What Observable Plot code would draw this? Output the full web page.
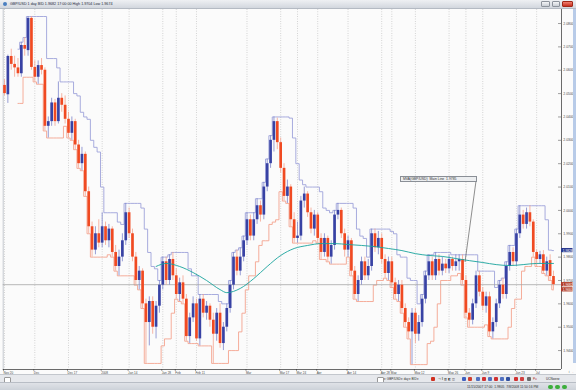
<!DOCTYPE html>
<html><head><meta charset="utf-8">
<script src="https://cdn.jsdelivr.net/npm/d3@7"></script>
<script src="https://cdn.jsdelivr.net/npm/@observablehq/plot@0.6"></script>
<style>
html,body{margin:0;padding:0;background:#d5d9df;}
#wrap{position:relative;width:576px;height:390px;overflow:hidden;background:#fbfbfb;font-family:"Liberation Sans",Arial,sans-serif;}
#titlebar{position:absolute;left:0;top:0;width:576px;height:9px;background:linear-gradient(#eef0f3,#d2d7de);border-bottom:1px solid #b4bac3;box-sizing:border-box;}
#titletext{position:absolute;left:10px;top:2px;font-size:3.7px;line-height:5px;color:#23293a;white-space:nowrap;}
#ticon{position:absolute;left:3px;top:2px;width:4px;height:4px;border-radius:50%;background:#4a7fc0;}
.wbtn{position:absolute;top:1px;height:6px;border:0.5px solid #8d939c;border-radius:1px;box-sizing:border-box;background:linear-gradient(#f4f5f7,#c9ced5);}
#plotbox{position:absolute;left:0;top:9px;}
#strip{position:absolute;left:573px;top:9px;width:3px;height:354px;background:#b8cbe8;}
#tip{position:absolute;left:400px;top:176px;width:77px;height:6px;background:#eceef0;border:0.5px solid #8a8f96;box-sizing:border-box;font-size:3.4px;line-height:5.5px;color:#333;white-space:nowrap;overflow:hidden;padding-left:2px;}
#tipline{position:absolute;left:0;top:0;}
#toolbar{position:absolute;left:0;top:374px;width:576px;height:8px;background:#e6e8ec;border-top:0.5px solid #c3c7cd;box-sizing:border-box;}
#status{position:absolute;left:0;top:382px;width:576px;height:8px;background:linear-gradient(#dfe2e7,#cdd2d9);border-top:0.5px solid #b8bdc5;box-sizing:border-box;}
#statustext{position:absolute;left:467px;top:2px;font-size:3.3px;color:#333;white-space:nowrap;}
.tb{position:absolute;top:1.6px;height:5px;font-size:3.1px;line-height:5px;color:#333;white-space:nowrap;}
.ic{position:absolute;top:2px;width:4px;height:4px;border-radius:1px;}
.dot{position:absolute;top:1.8px;width:4.5px;height:4.5px;border-radius:50%;background:#3cae3c;}
</style></head>
<body>
<div id="wrap">
  <div id="titlebar"><div id="ticon"></div><div id="titletext"></div>
    <div class="wbtn" style="left:541px;width:9px"></div>
    <div class="wbtn" style="left:552px;width:8px"></div>
    <div class="wbtn" style="left:562px;width:11px;background:linear-gradient(#f08070,#c83020);border-color:#a02818"></div>
  </div>
  <div id="plotbox"></div>
  <div id="strip"></div>
  <svg id="tipline" width="576" height="390"><line x1="476" y1="181" x2="465" y2="262" stroke="#444" stroke-width="0.6"/></svg>
  <div id="tip"></div>
  <div id="toolbar">
    <div class="ic" style="left:4px;top:1.5px;width:5px;height:5px;background:#fff;border:0.5px solid #999"></div>
    <div class="ic" style="left:377px;top:1.5px;width:5px;height:5px;background:#fff;border:0.5px solid #999"></div>
    <div class="tb" style="left:384px;">▾ GBP/USD▾ day▾ BID▾</div>
    <div class="ic" style="left:431px;background:#d03020"></div>
    <div class="tb" style="left:438px;">⊣ ‖ ▥ ◧ ◫</div>
    <div class="ic" style="left:462px;background:#4060c0"></div>
    <div class="ic" style="left:468px;background:#d04030"></div>
    <div class="ic" style="left:476px;background:#5070c0"></div>
    <div class="ic" style="left:482px;background:#d03030"></div>
    <div class="ic" style="left:488px;background:#5070c0"></div>
    <div class="ic" style="left:494px;background:#d03030"></div>
    <div class="ic" style="left:500px;background:#5070c0"></div>
    <div class="ic" style="left:506px;background:#3050a0"></div>
    <div class="ic" style="left:514px;background:#d03030"></div>
    <div class="ic" style="left:520px;background:#d04040"></div>
    <div class="ic" style="left:527px;background:#6a6a6a"></div>
    <div class="tb" style="left:533px;color:#b03020">Pu</div>
    <div class="tb" style="left:546px;">UCNwes▾</div>
  </div>
  <div id="status"><div id="statustext">11/15/2007 17:00&nbsp; 1.9805&nbsp; 7/8/2008 11:50:16 PM</div>
    <div class="dot" style="left:548px"></div><div class="dot" style="left:555px"></div><div class="dot" style="left:562px"></div>
  </div>
</div>
<script>
// ---- data: GBP/USD daily candles, Nov 20 2007 – Jul 8 2008 (bar index order) ----
const opens = [
2.0535,2.0495,2.0659,2.0625,2.0610,2.0585,2.0706,2.0684,2.0822,2.0612,
2.0570,2.0620,2.0600,2.0360,2.0380,2.0460,2.0380,2.0480,2.0450,2.0390,
2.0330,2.0380,2.0280,2.0200,2.0240,2.0080,1.9930,1.9830,1.9900,1.9860,
1.9930,1.9870,1.9920,1.9820,1.9760,1.9800,1.9870,1.9990,1.9900,1.9800,
1.9700,1.9740,1.9600,1.9520,1.9610,1.9500,1.9590,1.9680,1.9780,1.9700,
1.9790,1.9720,1.9640,1.9690,1.9620,1.9460,1.9540,1.9600,1.9450,1.9620,
1.9560,1.9590,1.9530,1.9470,1.9560,1.9430,1.9500,1.9580,1.9680,1.9800,
1.9740,1.9800,1.9870,1.9960,1.9890,1.9960,2.0020,1.9980,2.0100,2.0200,
2.0300,2.0380,2.0290,2.0180,2.0060,2.0100,1.9960,1.9880,1.9890,2.0040,
2.0070,1.9990,1.9920,1.9980,1.9880,1.9820,1.9880,1.9800,1.9850,1.9980,
2.0000,1.9900,1.9830,1.9870,1.9740,1.9640,1.9700,1.9780,1.9720,1.9760,
1.9900,1.9840,1.9880,1.9790,1.9730,1.9780,1.9690,1.9640,1.9680,1.9580,
1.9520,1.9480,1.9560,1.9470,1.9520,1.9620,1.9720,1.9780,1.9720,1.9790,
1.9740,1.9770,1.9750,1.9790,1.9760,1.9780,1.9790,1.9700,1.9560,1.9530,
1.9600,1.9720,1.9650,1.9590,1.9630,1.9480,1.9520,1.9600,1.9680,1.9640,
1.9760,1.9820,1.9780,1.9900,1.9980,1.9940,1.9990,1.9950,1.9820,1.9790,
1.9810,1.9740,1.9785,1.9717];
const highs = [
2.0560,2.0665,2.0690,2.0660,2.0650,2.0720,2.0740,2.0830,2.0830,2.0640,
2.0640,2.0650,2.0610,2.0400,2.0480,2.0475,2.0550,2.0500,2.0490,2.0420,
2.0400,2.0390,2.0300,2.0270,2.0250,2.0100,1.9950,1.9930,1.9960,1.9990,
1.9950,1.9940,1.9930,1.9850,1.9830,1.9900,2.0030,2.0010,1.9920,1.9820,
1.9760,1.9750,1.9620,1.9630,1.9630,1.9610,1.9700,1.9800,1.9800,1.9810,
1.9820,1.9750,1.9710,1.9720,1.9640,1.9560,1.9630,1.9620,1.9640,1.9640,
1.9610,1.9600,1.9560,1.9580,1.9600,1.9520,1.9600,1.9700,1.9820,1.9830,
1.9840,1.9890,1.9990,1.9980,1.9990,2.0050,2.0040,2.0120,2.0220,2.0320,
2.0400,2.0395,2.0310,2.0200,2.0130,2.0110,1.9990,1.9950,2.0060,2.0100,
2.0080,2.0010,2.0000,1.9990,1.9900,1.9900,1.9890,1.9870,2.0000,2.0030,
2.0010,1.9920,1.9890,1.9880,1.9760,1.9720,1.9800,1.9800,1.9790,1.9920,
1.9920,1.9910,1.9900,1.9810,1.9800,1.9800,1.9710,1.9700,1.9700,1.9600,
1.9540,1.9580,1.9580,1.9550,1.9640,1.9740,1.9810,1.9800,1.9820,1.9810,
1.9800,1.9790,1.9810,1.9800,1.9810,1.9810,1.9810,1.9720,1.9580,1.9620,
1.9740,1.9740,1.9670,1.9650,1.9650,1.9540,1.9620,1.9700,1.9710,1.9780,
1.9850,1.9840,1.9920,2.0020,2.0000,2.0010,2.0020,1.9960,1.9830,1.9825,
1.9828,1.9800,1.9810,1.9740];
const lows = [
2.0490,2.0458,2.0600,2.0570,2.0570,2.0570,2.0660,2.0660,2.0600,2.0550,
2.0540,2.0580,2.0340,2.0310,2.0360,2.0360,2.0370,2.0420,2.0370,2.0310,
2.0300,2.0260,2.0180,2.0170,2.0060,1.9900,1.9800,1.9810,1.9840,1.9840,
1.9850,1.9840,1.9800,1.9740,1.9720,1.9780,1.9850,1.9880,1.9780,1.9680,
1.9660,1.9580,1.9345,1.9420,1.9470,1.9450,1.9560,1.9660,1.9680,1.9680,
1.9700,1.9620,1.9610,1.9600,1.9440,1.9430,1.9520,1.9440,1.9420,1.9540,
1.9530,1.9500,1.9345,1.9440,1.9410,1.9400,1.9480,1.9560,1.9660,1.9720,
1.9720,1.9780,1.9850,1.9870,1.9870,1.9940,1.9950,1.9960,2.0080,2.0180,
2.0250,2.0260,2.0160,2.0040,2.0030,1.9930,1.9860,1.9860,1.9870,2.0010,
1.9970,1.9900,1.9890,1.9860,1.9790,1.9800,1.9780,1.9770,1.9830,1.9960,
1.9880,1.9800,1.9800,1.9720,1.9620,1.9610,1.9680,1.9700,1.9700,1.9740,
1.9820,1.9810,1.9770,1.9710,1.9700,1.9670,1.9620,1.9610,1.9560,1.9500,
1.9450,1.9340,1.9430,1.9440,1.9500,1.9600,1.9700,1.9700,1.9700,1.9720,
1.9720,1.9730,1.9730,1.9740,1.9740,1.9740,1.9680,1.9540,1.9500,1.9510,
1.9580,1.9630,1.9570,1.9560,1.9460,1.9450,1.9500,1.9580,1.9620,1.9620,
1.9740,1.9760,1.9760,1.9880,1.9920,1.9920,1.9930,1.9800,1.9760,1.9770,
1.9730,1.9720,1.9700,1.9660];
const closes = [
2.0500,2.0659,2.0625,2.0610,2.0585,2.0706,2.0690,2.0822,2.0612,2.0570,
2.0620,2.0600,2.0360,2.0380,2.0460,2.0380,2.0480,2.0450,2.0390,2.0330,
2.0380,2.0280,2.0200,2.0240,2.0080,1.9930,1.9830,1.9900,1.9860,1.9930,
1.9870,1.9920,1.9820,1.9760,1.9800,1.9870,1.9990,1.9900,1.9800,1.9700,
1.9740,1.9600,1.9520,1.9610,1.9500,1.9590,1.9680,1.9780,1.9700,1.9790,
1.9720,1.9640,1.9690,1.9620,1.9460,1.9540,1.9600,1.9450,1.9620,1.9560,
1.9590,1.9530,1.9470,1.9560,1.9430,1.9500,1.9580,1.9680,1.9800,1.9740,
1.9800,1.9870,1.9960,1.9890,1.9960,2.0020,1.9980,2.0100,2.0200,2.0300,
2.0380,2.0290,2.0180,2.0060,2.0100,1.9960,1.9880,1.9890,2.0040,2.0070,
1.9990,1.9920,1.9980,1.9880,1.9820,1.9880,1.9800,1.9850,1.9980,2.0000,
1.9900,1.9830,1.9870,1.9740,1.9640,1.9700,1.9780,1.9720,1.9760,1.9900,
1.9840,1.9880,1.9790,1.9730,1.9780,1.9690,1.9640,1.9680,1.9580,1.9520,
1.9480,1.9560,1.9470,1.9520,1.9620,1.9720,1.9780,1.9720,1.9790,1.9740,
1.9770,1.9750,1.9790,1.9760,1.9780,1.9790,1.9700,1.9560,1.9530,1.9600,
1.9720,1.9650,1.9590,1.9630,1.9480,1.9520,1.9600,1.9680,1.9640,1.9760,
1.9820,1.9780,1.9900,1.9980,1.9940,1.9990,1.9950,1.9820,1.9790,1.9810,
1.9740,1.9780,1.9717,1.9682];

// moving-average indicator line at these bars
const maBars   = [45, 48, 52, 56, 60, 64, 66, 70, 74, 78, 82, 86, 90, 94, 98, 102, 106, 110, 114, 118, 122, 126, 130, 134, 138, 142, 146, 150, 154, 158, 163];
const maValues = [1.9760,1.9773,1.9760,1.9734,1.9700,1.9661,1.9648,1.9666,1.9708,1.9760,1.9807,1.9837,1.9850,1.9858,1.9858,1.9854,1.9850,1.9845,1.9837,1.9828,1.9815,1.9807,1.9803,1.9794,1.9785,1.9777,1.9768,1.9764,1.9768,1.9773,1.9773];

// x tick labels (bar index -> label)
const tickIdx  = [0, 9, 19, 29, 37, 47, 51, 57, 72, 82, 87, 93, 102, 112, 115, 122, 132, 137, 142, 152, 158];
const tickText = ["Nov 20","Dec","Dec 17","2008","Jan 14","Jan 28","Feb","Feb 11","Mar","Mar 17","Mar 24","Apr","Apr 14","Apr 28","May","May 12","May 26","Jun","Jun 9","Jun 23","Jul"];
// y tick values
const yTicks = [1.94,1.95,1.96,1.97,1.98,1.99,2.00,2.01,2.02,2.03,2.04,2.05,2.06,2.07,2.08];

const titleText = "GBP/USD 1 day BID 1.9682 17:00:00 High 1.9704 Low 1.9674";
const channelK = 5;     // price channel length

document.getElementById("titletext").textContent = titleText;

const bars = opens.map((o, i) => ({i, open: o, high: highs[i], low: lows[i], close: closes[i]}));
const ups = bars.filter(d => d.close >= d.open);
const downs = bars.filter(d => d.close < d.open);
const maData = maBars.map((b, j) => ({i: b, ma: maValues[j]}));
const n = bars.length;

const W = 576, H = 366, mL = 2.7, mR = 15, mB = 6;
const pxPerBar = 3.368;
const xmin = -(4 - mL) / pxPerBar;
const xmax = xmin + (W - mR - mL) / pxPerBar;
const yDomain = [1.9319, 2.0860];

const lastUpper = d3.max(highs.slice(-channelK));
const lastLower = d3.min(lows.slice(-channelK));
const lastClose = closes[n - 1];
const tags = [
  {v: lastUpper, fill: "#2b3a8f"},
  {v: lastClose, fill: "#b23c26"},
  {v: lastLower, fill: "#b23c26"}
];
const labelOf = new Map(tickIdx.map((t, j) => [t, tickText[j]]));
const f4 = d3.format(".4f");

document.getElementById("tip").textContent = `MVA(GBP/USD) \u00a0Main Line\u00a0 ${f4(maValues[maBars.indexOf(138)])}`;

const chart = Plot.plot({
  width: W, height: H,
  marginTop: 0, marginBottom: mB, marginLeft: mL, marginRight: mR,
  style: {background: "transparent", fontFamily: "Liberation Sans, Arial, sans-serif", overflow: "visible"},
  x: {domain: [xmin, xmax]},
  y: {domain: yDomain},
  color: {type: "identity"},
  marks: [
    Plot.gridX(tickIdx, {stroke: "#9a9a9a", strokeOpacity: 0.7, strokeWidth: 0.7, strokeDasharray: "0.8,1.6"}),
    Plot.ruleX([xmin], {stroke: "#c4c8ce", strokeWidth: 1}),
    // price channel
    Plot.lineY(bars, Plot.windowY({k: channelK, anchor: "end", reduce: "max", strict: true},
      {x: "i", y: "high", curve: "step", stroke: "#9ea3da", strokeWidth: 0.9})),
    Plot.lineY(bars, Plot.windowY({k: channelK, anchor: "end", reduce: "min", strict: true},
      {x: "i", y: "low", curve: "step", stroke: "#f4a48e", strokeWidth: 0.9})),
    // current price line
    Plot.ruleY([lastClose], {stroke: "#a4a4a4", strokeWidth: 0.8}),
    // wicks
    Plot.ruleX(ups, {x: "i", y1: "low", y2: "high", stroke: "#7d85cc", strokeWidth: 0.8}),
    Plot.ruleX(downs, {x: "i", y1: "low", y2: "high", stroke: "#f4a38f", strokeWidth: 0.8}),
    // bodies
    Plot.ruleX(ups, {x: "i", y1: "open", y2: "close", stroke: "#3842a4", strokeWidth: 2.7}),
    Plot.ruleX(downs, {x: "i", y1: "open", y2: "close", stroke: "#f04a22", strokeWidth: 2.7}),
    // moving average
    Plot.lineY(maData, {x: "i", y: "ma", curve: "monotone-x", stroke: "#17a39c", strokeWidth: 0.9}),
    // axes
    Plot.ruleX([xmax], {stroke: "#6b6b6b", strokeWidth: 1}),
    Plot.ruleY([yDomain[0]], {stroke: "#6b6b6b", strokeWidth: 1}),
    Plot.ruleY(yTicks, {x1: xmax - 3 / pxPerBar, x2: xmax, stroke: "#777", strokeWidth: 0.7}),
    Plot.axisY(yTicks, {anchor: "right", tickSize: 0, tickPadding: 1.8, tickFormat: f4, fontSize: 3.4, color: "#4a4a4a"}),
    Plot.axisX(tickIdx, {anchor: "bottom", tickSize: 1.5, tickPadding: 0.8, tickFormat: i => labelOf.get(i),
      textAnchor: "start", dx: -1, fontSize: 3.1, color: "#4a4a4a"}),
    // last-value tags on the price scale
    Plot.rect(tags, {x1: xmax, x2: xmax + 11.5 / pxPerBar, y1: d => d.v - 0.0009, y2: d => d.v + 0.0009, fill: "fill"}),
    Plot.text(tags, {x: xmax, y: "v", text: d => f4(d.v), textAnchor: "start", dx: 1.3, fill: "white", fontSize: 3.2})
  ]
});
document.getElementById("plotbox").appendChild(chart);
</script>
</body></html>
